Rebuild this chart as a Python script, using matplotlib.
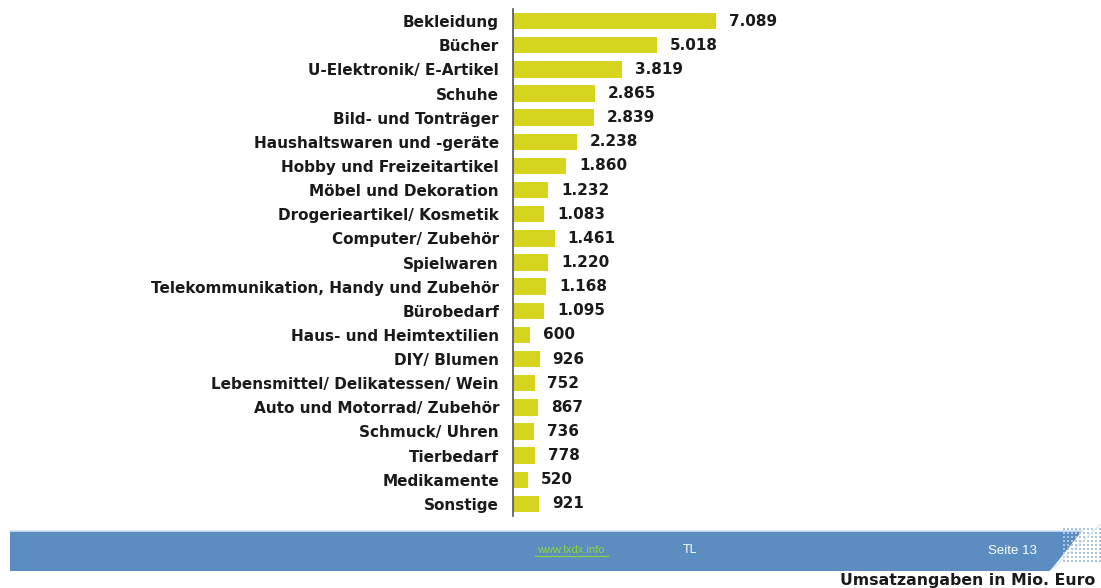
import numpy as np
import matplotlib
matplotlib.use("Agg")
import matplotlib.pyplot as plt
from matplotlib.patches import Polygon

plt.rcParams['font.family'] = ['DejaVu Sans']

# Data (Umsatz in Mio. Euro)
categories = [
    "Bekleidung", "Bücher", "U-Elektronik/ E-Artikel", "Schuhe",
    "Bild- und Tonträger", "Haushaltswaren und -geräte",
    "Hobby und Freizeitartikel", "Möbel und Dekoration",
    "Drogerieartikel/ Kosmetik", "Computer/ Zubehör", "Spielwaren",
    "Telekommunikation, Handy und Zubehör", "Bürobedarf",
    "Haus- und Heimtextilien", "DIY/ Blumen",
    "Lebensmittel/ Delikatessen/ Wein", "Auto und Motorrad/ Zubehör",
    "Schmuck/ Uhren", "Tierbedarf", "Medikamente", "Sonstige",
]
values = [7089, 5018, 3819, 2865, 2839, 2238, 1860, 1232, 1083, 1461, 1220,
          1168, 1095, 600, 926, 752, 867, 736, 778, 520, 921]

W, H = 1101, 588
fig = plt.figure(figsize=(W / 100, H / 100), dpi=100)


def fx(x):
    return x / W


def fy(y):
    return 1 - y / H


# axes placed in pixel positions
ax_left, ax_right = 513, 813
ax_top, ax_bot = 9, 516
ax = fig.add_axes([fx(ax_left), fy(ax_bot), fx(ax_right - ax_left), (ax_bot - ax_top) / H])
xmax = 7089 * (ax_right - ax_left) / 203.0

y = np.arange(len(categories))
ax.barh(y, values, height=0.68, color='#d5d41f', edgecolor='none')
ax.set_xlim(0, xmax)
ax.set_ylim(len(categories) - 0.5, -0.5)
ax.set_yticks(y)
ax.set_yticklabels(categories, fontsize=11, fontweight='bold', color='#1a1a1a')
ax.tick_params(axis='y', length=0, pad=10)
ax.set_xticks([])
for s in ['top', 'right', 'bottom']:
    ax.spines[s].set_visible(False)
ax.spines['left'].set_color('#555555')
ax.spines['left'].set_linewidth(1.2)

for yi, v in zip(y, values):
    lab = f"{v:,}".replace(",", ".")
    ax.text(v + xmax * 0.043, yi, lab, va='center', ha='left',
            fontsize=11, fontweight='bold', color='#1a1a1a')

# footer band
band = Polygon([(fx(10), fy(531)), (fx(1082), fy(531)), (fx(1050), fy(571)), (fx(10), fy(571))],
               closed=True, transform=fig.transFigure, facecolor='#5b8dc0', edgecolor='none')
fig.patches.append(band)
fig.add_artist(plt.Line2D([fx(10), fx(1082)], [fy(531), fy(531)], transform=fig.transFigure,
                          color='#cfe3f2', lw=1.2))

# dotted pattern at the right end
gx = np.arange(1064, 1101, 4)
gy = np.arange(529, 562, 4)
dx, dy = np.meshgrid(gx, gy)
fig.add_artist(plt.Line2D(fx(dx.ravel()), fy(dy.ravel()), transform=fig.transFigure,
                          linestyle='none', marker='s', markersize=1.6,
                          color='#a9c4e2', markeredgewidth=0))
fig.add_artist(plt.Line2D([fx(1100), fx(1050)], [fy(525), fy(571)], transform=fig.transFigure,
                          color='#dde9f5', lw=1.0))

fig.text(fx(571), fy(550), "www.lxdx.info", color='#8fd63a', fontsize=8,
         ha='center', va='center', family='Liberation Sans')
fig.add_artist(plt.Line2D([fx(535), fx(608)], [fy(556), fy(556)], transform=fig.transFigure,
                          color='#8fd63a', lw=0.8))
fig.text(fx(690), fy(550), "TL", color='white', fontsize=9, ha='center', va='center',
         family='Liberation Sans')
fig.text(fx(1012), fy(551), "Seite 13", color='white', fontsize=9.5, ha='center', va='center',
         family='Liberation Sans')
fig.text(fx(1095), fy(580), "Umsatzangaben in Mio. Euro", color='#1a1a1a', fontsize=11.3,
         fontweight='bold', ha='right', va='center')

fig.savefig("out.png", dpi=100, facecolor='white')
